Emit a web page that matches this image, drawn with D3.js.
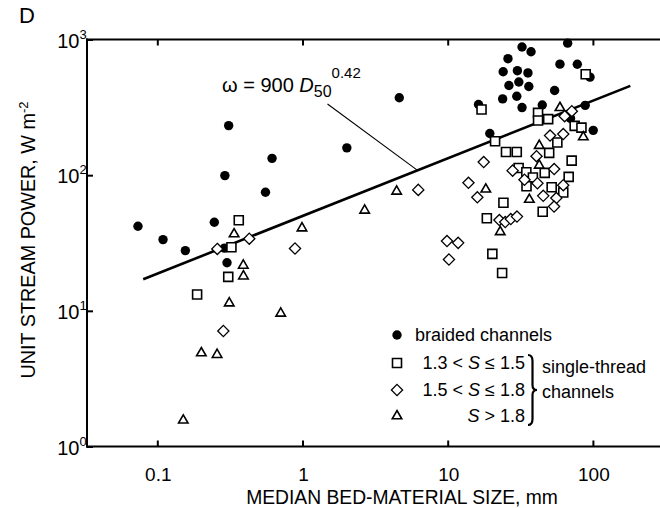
<!DOCTYPE html>
<html><head><meta charset="utf-8">
<script src="https://cdn.jsdelivr.net/npm/d3@7"></script>
<style>
body{margin:0;background:#fff;}
svg{display:block;}
text{font-family:"Liberation Sans",Arial,Helvetica,sans-serif;fill:#000;}
</style></head>
<body>
<svg id="chart" width="660" height="508"></svg>
<script>
// ---- data ----
const braidedD = [0.0736,0.1095,0.156,0.247,0.290,0.302,0.310,0.292,0.556,0.617,2.02,4.64,
  16.3,19.5,23.9,24.1,26.0,26.4,29.9,30.2,30.9,32.5,32.5,35.7,36.2,37.5,44.8,54.5,59.3,67.0,70.1,78.1,88.5,95.5,100.5];
const braidedW = [42.0,33.5,27.8,45.0,29.0,22.6,232,99.3,74.8,133,159,372,
  332,203,365,578,722,458,382,589,486,881,315,567,450,812,329,421,658,940,262,657,327,528,214];

const sq15D = [0.364,0.324,0.308,0.188,17.1,21.2,25.2,29.9,41.9,41.9,49.2,74.9,83.4,89.2,56.9,50.0,71.4,
  30.8,34.8,38.6,46.6,68.1,52.0,34.9,62.5,24.2,45.1,18.6,20.3,23.7];
const sq15W = [46.5,29.4,17.8,13.2,305,178,148,148,288,253,259,231,224,555,174,146,128,
  113,105,96.0,104,97.2,81.4,82.8,74.5,62.6,53.7,48.1,26.3,19.0];

const di18D = [0.259,0.430,0.888,0.285,6.27,9.89,11.8,10.2,13.9,16.0,17.7,22.7,24.9,27.2,30.0,
  28.0,33.8,41.5,40.9,45.5,56.0,54.0,54.1,62.5,50.7,62.5,63.9,71.6];
const di18W = [28.6,34.0,28.8,7.1,77.9,32.7,31.7,23.9,87.8,68.7,125,46.7,45.1,47.5,49.5,
  108,92.5,87.2,138,70.4,67.8,58.7,111,84.3,196,201,272,296];

const triD = [0.338,0.391,0.392,0.313,0.708,0.201,0.258,0.151,0.992,2.68,4.45,
  18.3,23.0,36.5,42.7,42.7,59.3,85.9];
const triW = [36.8,21.6,18.0,11.4,9.58,4.89,4.75,1.56,40.7,55.0,76.0,
  78.7,38.2,66.1,165,118,314,191];

// fitted line omega = 900 D50^0.42 (end points as drawn)
const fitD = [0.08, 181];
const fitW = [17.1, 455];
// point on the line where the label's leader meets it
const leaderD = 6.2;

const xTicks = [0.1, 1, 10, 100];
const xTickLabels = ["0.1", "1", "10", "100"];
const yTicks = [1, 10, 100, 1000];
const yTickExp = ["0", "1", "2", "3"];

const legendLabels = ["braided channels", "1.3 < S \u2264 1.5", "1.5 < S \u2264 1.8", "S > 1.8"];

// ---- layout ----
const svg = d3.select("#chart");
const L = 87, R = 660, T = 39.5, B = 446.5;
const x = d3.scaleLog().domain([Math.pow(10,(L-302.5)/145.2), Math.pow(10,(R-302.5)/145.2)]).range([L, R]);
const y = d3.scaleLog().domain([1, 1000]).range([B, T]);
const fitAt = d => Math.pow(10, Math.log10(fitW[0]) + (Math.log10(fitW[1])-Math.log10(fitW[0])) *
  (Math.log10(d)-Math.log10(fitD[0]))/(Math.log10(fitD[1])-Math.log10(fitD[0])));

// axes frame
const axW = 2;
svg.append("line").attr("x1",L).attr("x2",L).attr("y1",T-1).attr("y2",B+1).attr("stroke","#000").attr("stroke-width",axW);
svg.append("line").attr("x1",L-1).attr("x2",R).attr("y1",B).attr("y2",B).attr("stroke","#000").attr("stroke-width",axW);
svg.append("line").attr("x1",L-1).attr("x2",R).attr("y1",T).attr("y2",T).attr("stroke","#000").attr("stroke-width",axW);

// x ticks (inward) bottom and top
const xb = d3.axisBottom(x).tickValues(xTicks).tickSize(-6).tickFormat("");
const gxb = svg.append("g").attr("transform",`translate(0,${B})`).call(xb);
gxb.select(".domain").remove();
gxb.selectAll("line").attr("stroke-width",2);
const xt = d3.axisTop(x).tickValues(xTicks).tickSize(-6).tickFormat("");
const gxt = svg.append("g").attr("transform",`translate(0,${T})`).call(xt);
gxt.select(".domain").remove();
gxt.selectAll("line").attr("stroke-width",2);

svg.selectAll(".xlab").data(xTicks).enter().append("text")
  .attr("x", d => x(d)+1).attr("y", 481).attr("text-anchor","middle")
  .attr("font-size", 19).text((d,i) => xTickLabels[i]);

// y ticks
const yl = d3.axisLeft(y).tickValues(yTicks).tickSize(-6).tickFormat("");
const gy = svg.append("g").attr("transform",`translate(${L},0)`).call(yl);
gy.select(".domain").remove();
gy.selectAll("line").attr("stroke-width",2);

yTicks.forEach((v,i) => {
  svg.append("text").attr("x", 79.5).attr("y", y(v)+8).attr("text-anchor","end").attr("font-size",20).text("10");
  svg.append("text").attr("x", 79.5).attr("y", y(v)-1).attr("font-size",13).text(yTickExp[i]);
});

// axis titles
svg.append("text").attr("x", 402).attr("y", 504).attr("text-anchor","middle").attr("font-size",19.3)
  .text("MEDIAN BED-MATERIAL SIZE, mm");
const yt = svg.append("text").attr("transform","translate(35,240) rotate(-90)").attr("text-anchor","middle").attr("font-size",19.8);
yt.append("tspan").text("UNIT STREAM POWER, W m");
yt.append("tspan").attr("dy",-7).attr("font-size",13).text("-2");

// panel label
svg.append("text").attr("x", 19).attr("y", 23).attr("font-size", 22).text("D");

// fitted line
const line = d3.line().x(d => x(d[0])).y(d => y(d[1]));
svg.append("path").datum(fitD.map((d,i)=>[d, fitW[i]])).attr("d", line)
  .attr("stroke","#000").attr("stroke-width",2.6).attr("fill","none");

// annotation
svg.append("line").attr("x1",327.5).attr("y1",104).attr("x2",x(leaderD)).attr("y2",y(fitAt(leaderD)))
  .attr("stroke","#000").attr("stroke-width",1.1);
const ann = svg.append("text").attr("x", 222).attr("y", 92).attr("font-size", 20);
ann.append("tspan").text("\u03c9 = 900 ");
ann.append("tspan").attr("font-style","italic").text("D");
ann.append("tspan").attr("dy",5).attr("font-size",16).text("50");
ann.append("tspan").attr("dy",-19).attr("font-size",15).text("0.42");

// ---- markers ----
const sw = 1.6;
function sqPath(cx, cy, s){ const h=s/2; return `M${cx-h},${cy-h}h${s}v${s}h${-s}Z`; }
function diPath(cx, cy, s){ return `M${cx},${cy-s}L${cx+s},${cy}L${cx},${cy+s}L${cx-s},${cy}Z`; }
function triPath(cx, cy, s){ const h = s*Math.sqrt(3)/2; return `M${cx},${cy-h*2/3}L${cx+s/2},${cy+h/3}L${cx-s/2},${cy+h/3}Z`; }

const gMarks = svg.append("g");
gMarks.selectAll(".b").data(braidedD.map((d,i)=>[d,braidedW[i]])).enter().append("circle")
  .attr("cx", d=>x(d[0])).attr("cy", d=>y(d[1])).attr("r", 4.7).attr("fill","#000");
gMarks.selectAll(".s").data(sq15D.map((d,i)=>[d,sq15W[i]])).enter().append("path")
  .attr("d", d=>sqPath(x(d[0]), y(d[1]), 9)).attr("fill","#fff").attr("stroke","#000").attr("stroke-width",sw);
gMarks.selectAll(".d").data(di18D.map((d,i)=>[d,di18W[i]])).enter().append("path")
  .attr("d", d=>diPath(x(d[0]), y(d[1]), 5.6)).attr("fill","#fff").attr("stroke","#000").attr("stroke-width",1.3);
gMarks.selectAll(".t").data(triD.map((d,i)=>[d,triW[i]])).enter().append("path")
  .attr("d", d=>triPath(x(d[0]), y(d[1]), 9.5)).attr("fill","#fff").attr("stroke","#000").attr("stroke-width",sw);

// ---- legend ----
const legY = [335, 363, 390, 416];
const mx = 397;
svg.append("circle").attr("cx",mx).attr("cy",legY[0]).attr("r",4.7).attr("fill","#000");
svg.append("path").attr("d", sqPath(mx, legY[1], 9)).attr("fill","#fff").attr("stroke","#000").attr("stroke-width",sw);
svg.append("path").attr("d", diPath(mx, legY[2], 5.6)).attr("fill","#fff").attr("stroke","#000").attr("stroke-width",1.3);
svg.append("path").attr("d", triPath(mx, legY[3], 9.5)).attr("fill","#fff").attr("stroke","#000").attr("stroke-width",sw);

svg.append("text").attr("x",415).attr("y",legY[0]+6).attr("font-size",18).text(legendLabels[0]);
function sLabel(row, txt){
  const parts = txt.split("S");
  const t = svg.append("text").attr("x",525).attr("y",legY[row]+6).attr("text-anchor","end").attr("font-size",18);
  t.append("tspan").text(parts[0]);
  t.append("tspan").attr("font-style","italic").text("S");
  t.append("tspan").text(parts[1]);
}
sLabel(1, legendLabels[1]); sLabel(2, legendLabels[2]); sLabel(3, legendLabels[3]);

// brace
const by1 = legY[1]-8, by2 = legY[3]+9, bm = (by1+by2)/2, bx0 = 528, bx1 = 532.5, bx2 = 537;
const bp = `M${bx0},${by1} Q${bx1},${by1} ${bx1},${by1+6} L${bx1},${bm-5} Q${bx1},${bm} ${bx2},${bm} Q${bx1},${bm} ${bx1},${bm+5} L${bx1},${by2-6} Q${bx1},${by2} ${bx0},${by2}`;
svg.append("path").attr("d",bp).attr("fill","none").attr("stroke","#000").attr("stroke-width",2.2);
svg.append("text").attr("x",542).attr("y",373).attr("font-size",18).text("single-thread");
svg.append("text").attr("x",542).attr("y",398).attr("font-size",18).text("channels");
</script>
</body></html>
